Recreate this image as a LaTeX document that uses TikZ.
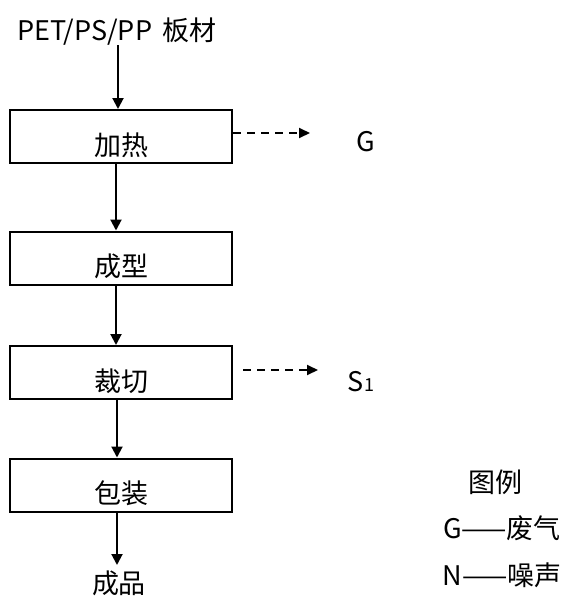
\documentclass[tikz,border=0pt]{standalone}
\usepackage{fontspec}
\setmainfont{Noto Sans CJK SC}
\usetikzlibrary{arrows.meta}
\begin{document}
\begin{tikzpicture}[x=1pt,y=-1pt,
  every node/.style={font=\fontsize{27}{30}\selectfont, inner sep=0pt},
  stepbox/.style={draw, line width=2pt, minimum width=222pt, minimum height=53pt,
    text height=40pt, text depth=3pt},
  arr/.style={line width=2pt, -{Triangle[length=11pt,width=11pt]}},
  darr/.style={line width=2pt, dash pattern=on 8pt off 6pt, -{Triangle[length=11pt,width=10pt]}}]
\useasboundingbox (0,0) rectangle (573,598);
\node (src) at (117,32) {PET/PS/PP\, 板材};
\node[stepbox] (b1) at (121,136.5) {加热};
\node[stepbox] (b2) at (121,258) {成型};
\node[stepbox] (b3) at (121,372.5) {裁切};
\node[stepbox] (b4) at (121,485) {包装};
\node (prod) at (119,583) {成品};
\node (g) at (366,142) {G};
\node (s1) at (361,382) {S{\fontsize{18}{20}\selectfont 1}};
\coordinate (ge) at (310,133);
\coordinate (se) at (318,370);
\node (leg) at (495,482) {图例};
\node (lg) at (502,528) {G——废气};
\node (ln) at (502,575) {N——噪声};
\draw[arr] (118,45) -- (b1.north -| 118,0);
\draw[arr] (b1.south -| 116,0) -- (b2.north -| 116,0);
\draw[arr] (b2.south -| 116,0) -- (b3.north -| 116,0);
\draw[arr] (b3.south -| 117,0) -- (b4.north -| 117,0);
\draw[arr] (b4.south -| 117,0) -- (117,565);
\draw[darr] (b1.east |- ge) -- (ge);
\draw[darr] ([xshift=10pt]b3.east |- se) -- (se);
\end{tikzpicture}
\end{document}
